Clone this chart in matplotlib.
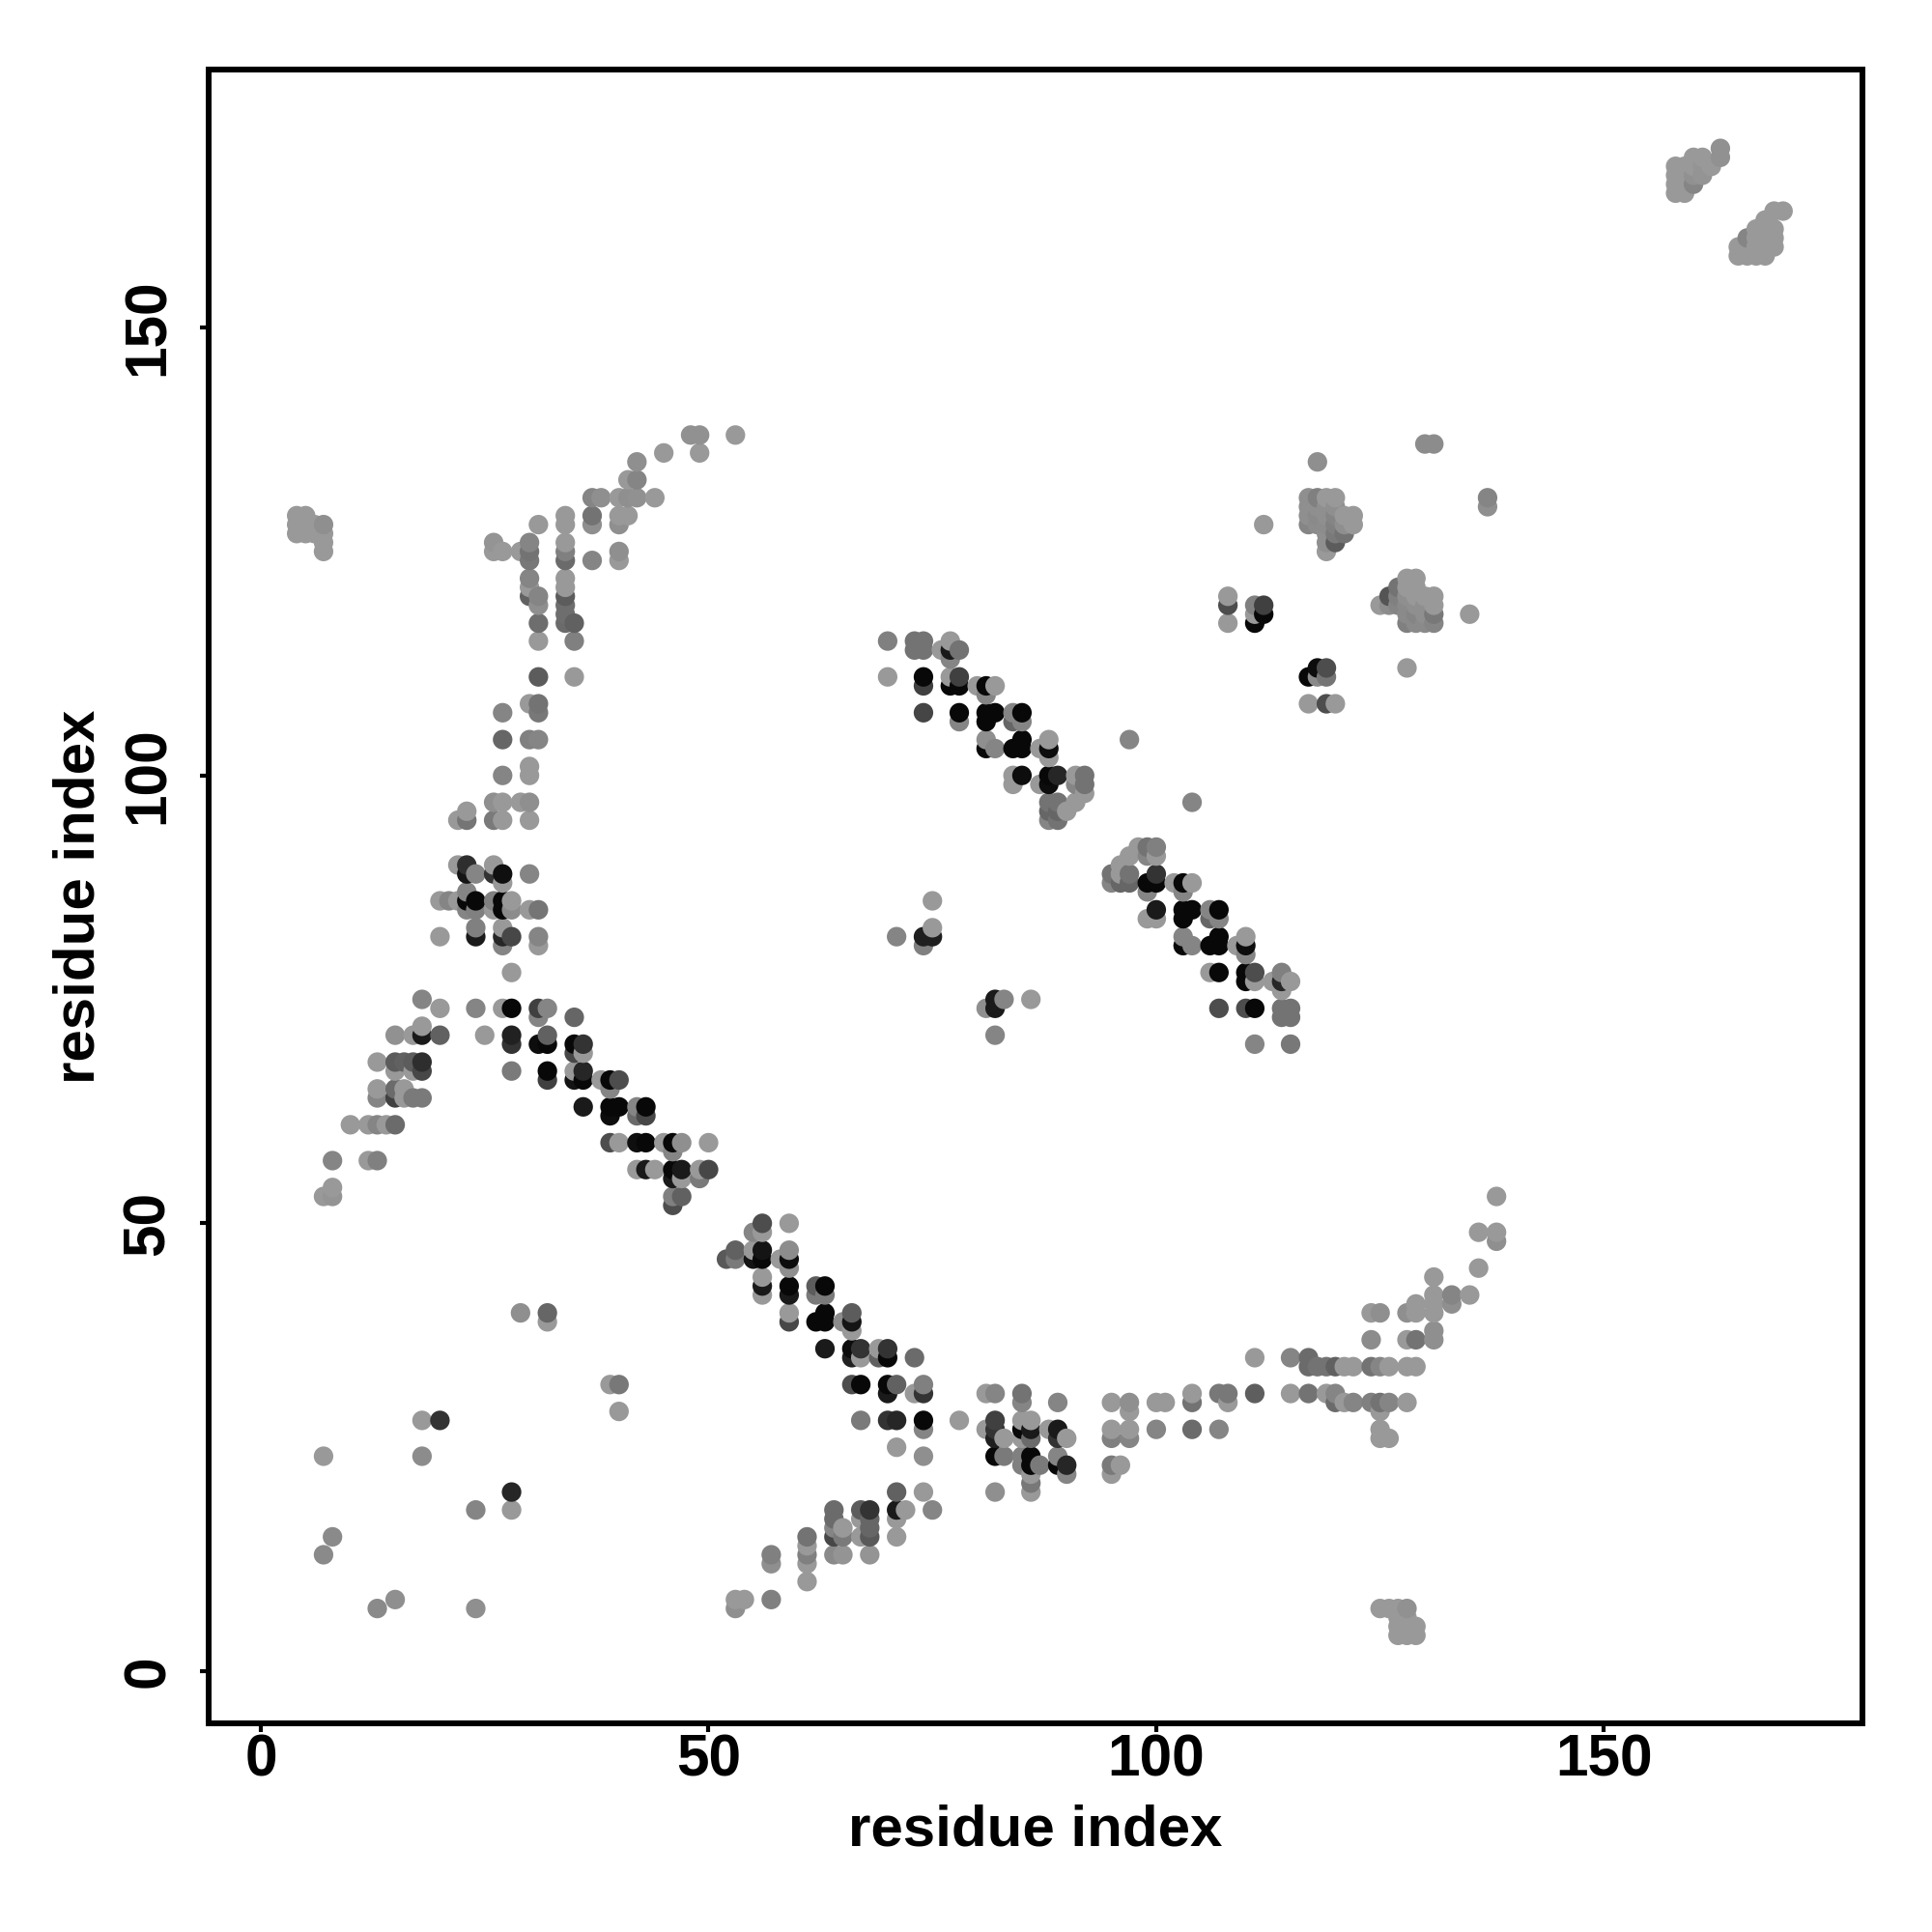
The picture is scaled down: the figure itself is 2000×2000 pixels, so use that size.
import matplotlib
matplotlib.use('Agg')
import matplotlib.pyplot as plt
import numpy as np

# shades: L light, M mid, K nearly black, anything else typed as a plain grey
L = 0.60
M = 0.52
K = 0.03

# each row is (residue j, [(residue i, grey), ...])
upper_left = [
    (129, [(4, L), (5, L)]),
    (128, [(4, L), (5, L), (6, L), (7, 0.56)]),
    (127, [(4, L), (5, L), (6, L), (7, L)]),
    (126, [(7, L)]),
    (125, [(7, L)]),
    (138, [(48, 0.57), (49, 0.57), (53, L)]),
    (136, [(45, L), (49, L)]),
    (135, [(42, 0.56)]),
    (133, [(41, L), (42, M)]),
    (131, [(37, M), (38, 0.56), (40, L), (41, 0.56), (42, 0.57), (44, L)]),
    (129, [(34, L), (37, 0.45), (40, L), (41, L)]),
    (128, [(31, L), (34, L), (37, 0.56), (40, 0.56)]),
    (126, [(26, 0.58), (30, M), (34, L)]),
    (125, [(26, L), (27, L), (29, L), (30, 0.45), (34, 0.5), (40, 0.56)]),
    (124, [(30, 0.47), (34, 0.42), (37, M), (40, L)]),
    (122, [(30, M), (34, L)]),
    (121, [(30, L), (34, L)]),
    (120, [(30, 0.38), (31, M), (34, 0.36)]),
    (119, [(31, 0.56), (34, 0.43)]),
    (118, [(34, 0.43)]),
    (117, [(31, 0.43), (34, 0.42), (35, 0.38)]),
    (115, [(31, L), (35, 0.5)]),
    (111, [(31, 0.36), (35, L)]),
    (108, [(30, L), (31, 0.45)]),
    (107, [(27, M), (31, 0.47)]),
    (104, [(27, 0.4), (30, 0.5), (31, M)]),
    (101, [(30, L)]),
    (100, [(27, M), (30, L)]),
    (97, [(26, 0.56), (27, L), (29, L), (30, 0.56)]),
    (96, [(23, L)]),
    (95, [(22, L), (23, 0.46), (26, 0.48), (27, L), (30, L)]),
]

upper_left_dense = [
    (90, [(22, L), (23, 0.18), (26, L)]),
    (89, [(23, 0.08), (24, M), (26, 0.2), (27, 0.06), (30, M)]),
    (88, [(27, L)]),
    (87, [(23, M)]),
    (86, [(20, L), (21, M), (22, L), (23, K), (24, K), (26, 0.5), (27, K), (28, L)]),
    (85, [(23, M), (24, 0.5), (26, L), (27, K), (28, 0.55), (30, L), (31, 0.46)]),
    (83, [(24, 0.5), (27, L)]),
    (82, [(20, L), (24, 0.1), (27, 0.15), (28, 0.28), (31, M)]),
    (81, [(27, M), (31, L)]),
    (78, [(28, L)]),
    (75, [(18, M)]),
    (74, [(20, L), (24, M), (27, L), (28, K), (31, 0.25), (32, 0.52)]),
    (73, [(31, 0.52), (35, 0.4)]),
    (72, [(18, L)]),
    (71, [(15, 0.57), (17, L), (18, 0.1), (20, 0.38), (25, L), (28, 0.13), (32, 0.38)]),
    (70, [(28, 0.2), (31, 0.05), (32, K), (35, K), (36, 0.2)]),
    (69, [(35, 0.28), (36, L)]),
    (68, [(13, L), (15, 0.36), (16, 0.38), (17, 0.36), (18, 0.18)]),
    (67, [(15, L), (17, L), (18, 0.28), (28, 0.48), (32, K), (35, L), (36, 0.15)]),
    (66, [(32, 0.25), (35, 0.08), (36, K), (38, L), (39, K), (40, 0.3)]),
    (65, [(13, L), (15, 0.42), (16, L), (39, M)]),
    (64, [(13, 0.52), (15, 0.25), (16, L), (17, 0.48), (18, 0.48)]),
    (63, [(36, 0.1), (39, K), (40, K), (42, M), (43, K)]),
    (62, [(39, 0.05), (42, 0.42), (43, 0.28)]),
    (61, [(10, L), (12, L), (13, 0.52), (14, L), (15, 0.42)]),
    (59, [(39, 0.3), (40, L), (42, 0.06), (43, K), (45, L), (46, K), (47, 0.56), (50, L)]),
    (58, [(46, M)]),
    (57, [(8, M), (12, L), (13, 0.5)]),
    (56, [(42, L), (43, 0.1), (44, L), (46, K), (47, 0.1), (49, L), (50, 0.28)]),
    (55, [(46, 0.1), (47, L), (49, 0.48)]),
    (54, [(8, L)]),
    (53, [(7, L), (8, 0.58), (46, 0.5), (47, 0.38)]),
    (52, [(46, 0.3)]),
]

lower_strand = [
    (50, [(56, 0.3), (59, L)]),
    (49, [(55, M), (56, L)]),
    (47, [(53, 0.38), (55, L), (56, 0.08), (59, 0.55)]),
    (46, [(52, 0.35), (53, 0.48), (55, 0.08), (56, K), (58, L), (59, 0.05)]),
    (45, [(59, 0.56)]),
    (44, [(56, L)]),
    (43, [(56, 0.1), (59, K), (62, 0.36), (63, K)]),
    (42, [(56, L), (59, 0.1), (62, 0.48), (63, 0.48)]),
    (40, [(59, L), (63, K), (66, 0.36)]),
    (39, [(59, 0.28), (62, K), (63, K), (65, 0.55), (66, 0.08)]),
    (38, [(66, L)]),
    (36, [(63, 0.1), (66, 0.05), (67, 0.2), (69, L), (70, 0.2)]),
    (35, [(66, 0.13), (67, L), (69, 0.38), (70, K), (73, 0.42)]),
    (32, [(66, 0.3), (67, K), (70, K), (71, 0.38), (74, 0.5)]),
    (31, [(70, 0.1), (73, L), (74, 0.2), (81, L), (82, 0.52), (85, 0.45)]),
    (30, [(85, 0.52), (89, M), (95, L), (97, 0.56), (100, L), (101, L)]),
    (29, [(97, L)]),
    (28, [(67, 0.48), (70, 0.2), (71, 0.15), (74, K), (78, L), (82, 0.25), (85, L), (86, L)]),
    (27, [(74, M), (81, L), (82, 0.2), (85, K), (86, 0.1), (88, L), (89, 0.1), (95, L), (97, L), (100, 0.52)]),
    (26, [(82, 0.12), (83, L), (85, L), (86, 0.42), (89, 0.2), (90, L), (95, 0.5), (97, 0.52)]),
    (25, [(71, L)]),
    (24, [(74, 0.56), (82, K), (83, 0.48), (85, 0.5), (86, K), (89, 0.52)]),
    (23, [(85, 0.5), (86, K), (87, 0.48), (89, K), (90, 0.15), (95, 0.48), (96, L)]),
    (22, [(86, L), (90, M), (95, L)]),
    (21, [(86, 0.47)]),
    (20, [(71, 0.38), (74, L), (82, 0.56), (86, L)]),
    (18, [(64, 0.42), (67, 0.36), (68, 0.2), (71, 0.1), (72, L), (75, 0.52)]),
    (17, [(64, 0.42), (67, L), (68, 0.4), (71, L)]),
    (16, [(64, 0.52), (65, L), (68, 0.4)]),
    (15, [(61, 0.45), (64, 0.28), (65, 0.48), (67, L), (68, 0.35), (71, L)]),
    (14, [(61, L)]),
    (13, [(57, 0.5), (61, 0.5), (64, 0.54), (65, 0.58), (68, 0.58)]),
    (12, [(57, 0.56), (61, L)]),
    (10, [(61, L)]),
    (8, [(53, L), (54, L), (57, 0.5)]),
    (7, [(53, 0.56)]),
]

lower_right = [
    (53, [(138, L)]),
    (49, [(136, L), (138, L)]),
    (48, [(138, 0.56)]),
    (45, [(136, L)]),
    (44, [(131, L)]),
    (42, [(131, L), (133, M), (135, L)]),
    (41, [(129, L), (131, L), (133, 0.56)]),
    (40, [(124, L), (125, 0.56), (128, 0.56), (129, L), (131, L)]),
    (38, [(131, 0.56)]),
    (37, [(124, 0.55), (128, L), (129, 0.45), (131, 0.56)]),
    (35, [(111, L), (115, 0.52), (117, 0.42)]),
    (34, [(117, 0.42), (118, 0.45), (119, 0.45), (120, 0.38), (121, L), (122, L),
          (124, 0.45), (125, 0.52), (126, L), (128, L), (129, L)]),
    (31, [(104, L), (107, 0.47), (108, 0.47), (111, 0.37), (115, L), (117, 0.45), (119, L), (120, 0.52)]),
    (30, [(104, 0.45), (108, L), (120, 0.42), (121, L), (122, 0.52), (124, 0.5), (125, 0.45), (126, M), (128, L)]),
    (29, [(125, L)]),
    (27, [(104, 0.42), (107, 0.52), (125, L)]),
    (26, [(125, L), (126, L)]),
    (7, [(125, L), (126, L), (127, L), (128, 0.57)]),
    (6, [(127, L), (128, L)]),
    (5, [(127, L), (128, L), (129, L)]),
    (4, [(127, L), (128, L), (129, L)]),
]

upper_strand = [
    (115, [(70, 0.5), (73, 0.45), (74, 0.45), (77, L)]),
    (114, [(73, 0.45), (74, 0.45), (76, L), (77, 0.1), (78, 0.45)]),
    (113, [(77, M)]),
    (111, [(70, L), (74, K), (77, L), (78, 0.25)]),
    (110, [(74, 0.25), (77, K), (78, K), (80, L), (81, K), (82, L)]),
    (109, [(81, M)]),
    (107, [(74, 0.27), (78, K), (81, K), (82, K), (84, M), (85, K)]),
    (106, [(78, M), (81, K), (84, 0.4), (85, M)]),
    (104, [(81, 0.56), (85, K), (88, L), (97, M)]),
    (103, [(81, K), (82, M), (84, K), (85, K), (87, L), (88, 0.05)]),
    (102, [(88, L)]),
    (100, [(84, L), (85, 0.05), (88, K), (89, 0.15), (91, L), (92, 0.45)]),
    (99, [(84, L), (87, L), (88, 0.05), (91, M), (92, 0.45)]),
    (98, [(92, L)]),
    (97, [(88, 0.45), (89, 0.45), (91, L), (104, M)]),
    (96, [(88, 0.4), (89, 0.4), (90, L)]),
    (95, [(88, M), (89, 0.45)]),
    (92, [(98, L), (99, 0.45), (100, 0.5)]),
    (91, [(97, L), (99, M), (100, L)]),
    (90, [(96, L)]),
    (89, [(95, 0.45), (96, L), (97, 0.45), (100, 0.2)]),
    (88, [(95, M), (96, 0.4), (97, 0.4), (99, K), (100, K), (102, L), (103, K), (104, L)]),
    (87, [(99, M), (103, M)]),
    (86, [(75, L)]),
    (85, [(100, 0.1), (103, K), (104, K), (106, M), (107, K)]),
    (84, [(99, L), (100, L), (103, K), (106, 0.4), (107, M)]),
    (83, [(75, L)]),
    (82, [(71, M), (74, 0.12), (75, 0.12), (103, M), (107, K), (110, L)]),
    (81, [(74, 0.5), (103, K), (104, M), (106, K), (107, K), (109, L), (110, 0.05)]),
    (80, [(110, M)]),
    (78, [(106, L), (107, K), (110, K), (111, 0.3), (114, 0.5)]),
    (77, [(110, K), (111, L), (113, L), (114, 0.15), (115, L)]),
    (76, [(114, L)]),
    (75, [(82, 0.1), (83, M), (86, L)]),
    (74, [(81, 0.56), (82, 0.1), (107, 0.3), (110, 0.3), (111, K), (114, 0.45), (115, 0.45)]),
    (73, [(114, 0.45), (115, 0.45)]),
    (71, [(82, M)]),
    (70, [(111, M), (115, 0.47)]),
]

upper_right = [
    (135, [(118, 0.56)]),
    (137, [(130, 0.55), (131, 0.55)]),
    (131, [(117, 0.56), (118, 0.5), (119, L), (120, L), (137, 0.52)]),
    (130, [(117, 0.56), (118, 0.56), (119, 0.56), (120, 0.56), (137, 0.56)]),
    (129, [(117, 0.56), (118, 0.54), (119, 0.56), (120, 0.52), (121, L), (122, L)]),
    (128, [(112, L), (117, 0.52), (118, 0.55), (119, 0.55), (120, 0.5), (121, 0.56), (122, L)]),
    (127, [(119, 0.56), (120, 0.48), (121, 0.45)]),
    (126, [(119, 0.56), (120, 0.36)]),
    (125, [(119, L)]),
    (122, [(128, L), (129, L)]),
    (121, [(127, 0.45), (128, L), (129, L)]),
    (120, [(108, L), (126, 0.33), (127, 0.5), (128, 0.56), (129, L), (130, L), (131, L)]),
    (119, [(108, 0.3), (111, 0.5), (112, 0.25), (125, L), (126, 0.55), (127, 0.52), (128, 0.54),
           (129, 0.56), (130, 0.56), (131, L)]),
    (118, [(111, L), (112, K), (128, 0.54), (129, 0.52), (130, 0.56), (131, 0.47), (135, L)]),
    (117, [(108, L), (111, K), (128, 0.5), (129, 0.54), (130, 0.54), (131, 0.52)]),
    (112, [(118, 0.05), (119, 0.3), (128, L)]),
    (111, [(117, K), (118, 0.54), (119, 0.46)]),
    (108, [(117, L), (119, 0.3), (120, L)]),
]

corner_blobs = [
    (170, [(163, 0.57)]),
    (169, [(160, L), (161, L), (163, 0.57)]),
    (168, [(158, L), (159, L), (160, L), (161, 0.58), (162, L)]),
    (167, [(158, L), (159, L), (160, 0.57), (161, 0.58)]),
    (166, [(158, L), (159, L), (160, 0.52)]),
    (165, [(158, L), (159, L)]),
    (163, [(169, L), (170, L)]),
    (162, [(168, L)]),
    (161, [(167, L), (168, L), (169, L)]),
    (160, [(166, 0.52), (167, L), (168, L), (169, L)]),
    (159, [(165, L), (166, L), (167, L), (168, L), (169, L)]),
    (158, [(165, L), (166, L), (167, L), (168, L)]),
]

scattered = [
    (40, [(29, 0.56), (32, 0.4)]),
    (39, [(32, L)]),
    (32, [(39, L), (40, 0.47)]),
    (29, [(40, L)]),
    (28, [(18, L), (20, 0.2)]),
    (24, [(7, L), (18, 0.55)]),
    (20, [(28, 0.15)]),
    (18, [(24, 0.52), (28, L)]),
    (15, [(8, 0.54)]),
    (13, [(7, 0.54)]),
    (8, [(15, 0.56)]),
    (7, [(13, 0.54), (24, 0.56)]),
]

tick_values = [0, 50, 100, 150]
axis_label = 'residue index'

all_rows = (upper_left + upper_left_dense + lower_strand + lower_right
            + upper_strand + upper_right + corner_blobs + scattered)

xs, ys, greys = [], [], []
for j, row in all_rows:
    for i, g in row:
        xs.append(i)
        ys.append(j)
        greys.append(g)
xs = np.array(xs)
ys = np.array(ys)
greys = np.array(greys)

# later columns and higher rows sit on top in the original
order = np.lexsort((ys, xs))

plt.rcParams['font.family'] = ['Liberation Sans', 'DejaVu Sans']
plt.rcParams['font.weight'] = 'bold'

fig = plt.figure(figsize=(10, 10), dpi=200)
ax = fig.add_axes([216/2000, 1-1784/2000, (1928.3-216)/2000, (1784-72)/2000])

ax.scatter(xs[order], ys[order], c=[str(g) for g in greys[order]], s=53, linewidths=0)

ax.set_xlim(-5.83, 178.9)
ax.set_ylim(-5.82, 178.8)
ax.set_xticks(tick_values)
ax.set_yticks(tick_values)
ax.set_xticklabels([str(t) for t in tick_values], fontsize=21.8, fontweight='bold')
ax.set_yticklabels([str(t) for t in tick_values], fontsize=21.8, fontweight='bold',
                   rotation=90, va='center')
ax.tick_params(length=3.2, width=1.5)
ax.tick_params(axis='x', pad=0.6)
ax.tick_params(axis='y', pad=8.8)
for side in ax.spines.values():
    side.set_linewidth(2.16)

ax.set_xlabel(axis_label, fontsize=21.6, fontweight='bold')
ax.set_ylabel(axis_label, fontsize=21.6, fontweight='bold')
ax.xaxis.set_label_coords(0.5, -0.049)
ax.yaxis.set_label_coords(-0.0622, 0.5)

plt.savefig('out.png')
plt.close()
